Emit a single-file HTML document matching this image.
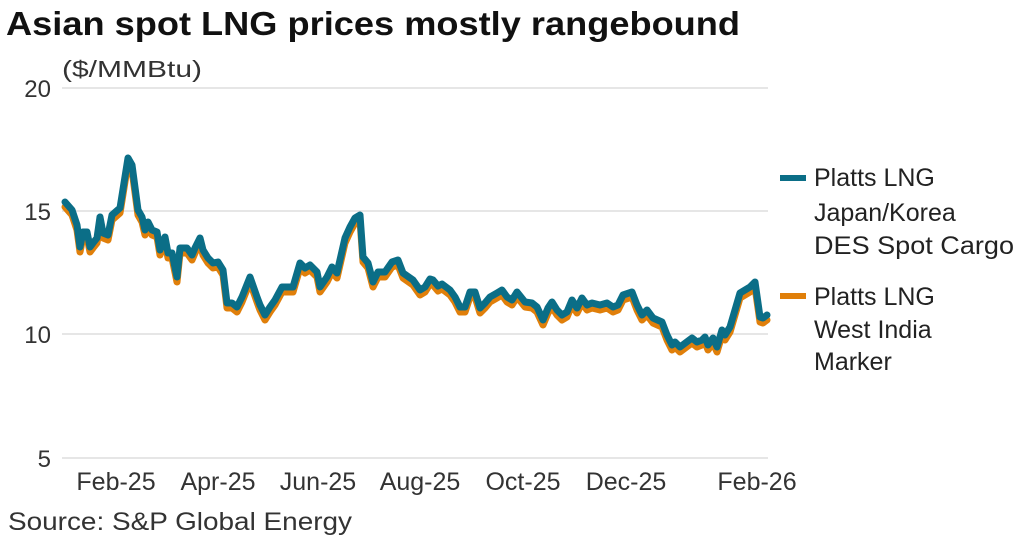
<!DOCTYPE html>
<html><head><meta charset="utf-8"><style>
body{margin:0;background:#fff;}
svg{display:block;font-family:"Liberation Sans",sans-serif;}
</style></head><body>
<svg width="1024" height="543" viewBox="0 0 1024 543">
<text x="6" y="35" font-size="33" font-weight="bold" fill="#111" textLength="734" lengthAdjust="spacingAndGlyphs">Asian spot LNG prices mostly rangebound</text>
<text x="62" y="77" font-size="23" fill="#333" textLength="140" lengthAdjust="spacingAndGlyphs">($/MMBtu)</text>
<g stroke="#ddd" stroke-width="1.5">
<line x1="62" y1="88" x2="768" y2="88"/><line x1="62" y1="211" x2="768" y2="211"/>
<line x1="62" y1="334" x2="768" y2="334"/><line x1="62" y1="458" x2="768" y2="458"/>
</g>
<g font-size="24" fill="#333" text-anchor="end">
<text x="51" y="97">20</text><text x="51" y="220">15</text><text x="51" y="343">10</text><text x="51" y="467">5</text>
</g>
<g font-size="25" fill="#333" text-anchor="middle">
<text x="116" y="490">Feb-25</text><text x="218" y="490">Apr-25</text><text x="318" y="490">Jun-25</text>
<text x="420" y="490">Aug-25</text><text x="523" y="490">Oct-25</text><text x="626" y="490">Dec-25</text><text x="757" y="490">Feb-26</text>
</g>
<defs><polyline id="ln" fill="none" stroke-width="7" stroke-linejoin="round" stroke-linecap="round" points="65,202 72,210 77,225 80,247 83,232 87,232 90,247 93,243 97,238 100,217 103,233 108,235 112,215 120,208 128,158 132,165 138,210 142,217 145,230 148,222 152,230 157,232 160,250 165,237 168,253 172,253 177,277 180,248 187,248 192,255 195,248 200,238 203,250 208,258 213,263 218,262 223,270 227,303 232,303 237,307 242,297 250,277 257,297 260,305 265,315 270,307 275,300 282,287 287,287 293,287 300,263 305,268 310,265 317,272 320,287 327,277 332,267 337,273 345,238 350,227 355,218 360,215 363,257 368,263 373,282 378,272 385,272 392,262 398,260 403,273 413,280 420,290 425,287 430,279 433,280 438,286 442,284 450,290 455,297 460,307 465,307 470,292 475,292 480,308 485,303 490,297 497,293 502,290 507,297 512,300 517,292 525,302 532,303 537,307 543,320 548,308 552,302 557,310 562,315 567,312 572,300 577,308 582,298 587,305 592,303 600,305 607,303 613,307 618,305 623,295 632,292 637,305 642,315 647,310 653,318 662,322 667,335 672,345 675,342 680,347 692,338 697,342 702,340 705,337 708,345 713,338 717,347 722,330 725,335 730,327 735,310 740,293 745,290 750,287 755,282 760,317 763,318 767,315"/></defs>
<use href="#ln" stroke="#e07f0a" transform="translate(0,5)"/>
<use href="#ln" stroke="#0b6e87"/>
<line x1="780" y1="178" x2="806" y2="178" stroke="#0b6e87" stroke-width="6"/>
<line x1="780" y1="296" x2="806" y2="296" stroke="#e07f0a" stroke-width="6"/>
<g font-size="25" fill="#222">
<text x="814" y="186">Platts LNG</text><text x="814" y="221">Japan/Korea</text><text x="814" y="254" textLength="200" lengthAdjust="spacingAndGlyphs">DES Spot Cargo</text>
<text x="814" y="305">Platts LNG</text><text x="814" y="338">West India</text><text x="814" y="370">Marker</text>
</g>
<text x="8" y="530" font-size="25" fill="#333" textLength="344" lengthAdjust="spacingAndGlyphs">Source:  S&amp;P Global Energy</text>
</svg>
</body></html>
